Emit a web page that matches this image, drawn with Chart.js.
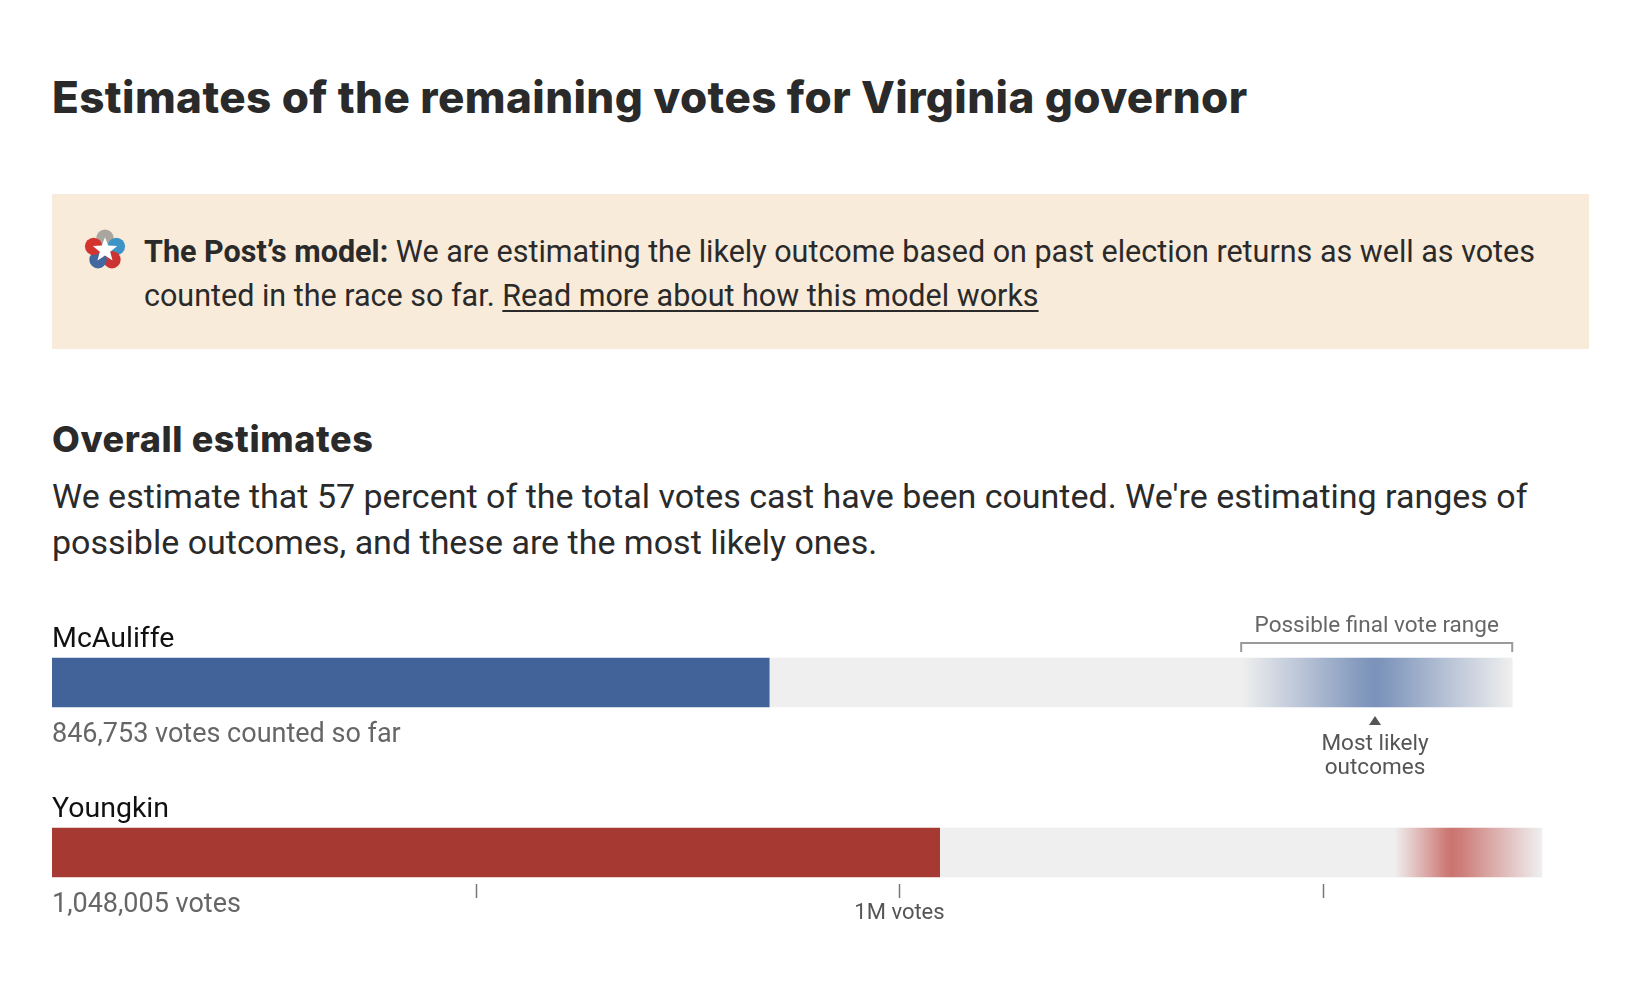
<!DOCTYPE html>
<html>
<head>
<meta charset="utf-8">
<script src="https://cdn.jsdelivr.net/npm/chart.js@4.4.0/dist/chart.umd.min.js"></script>
<style>
  body { margin: 0; background: #fff; width: 1634px; height: 1002px; position: relative; overflow: hidden;
         font-family: Roboto, "Noto Sans", sans-serif; color: #2a2a2a; }
  .abs { position: absolute; white-space: nowrap; }
  #title { left: 52px; top: 75px; font: 800 44px/1 Inter, Roboto, sans-serif; letter-spacing: 0.4px; color: #2a2a2a; }
  #note { left: 52px; top: 194px; width: 1537px; height: 155px; background: #f9ebd9; }
  #noteIcon { left: 83px; top: 228px; width: 44px; height: 44px; }
  #noteText { left: 144px; top: 230px; font-size: 30.5px; line-height: 44px; }
  #noteText b { font-weight: 700; }
  #noteText u { text-underline-offset: 4px; text-decoration-thickness: 2px; }
  #sub { left: 52px; top: 421px; font: 800 36px/1 Inter, Roboto, sans-serif; letter-spacing: 0.6px; }
  #desc { left: 52px; top: 473px; font-size: 34px; line-height: 46px; }
  #wrap { position: absolute; left: 0; top: 580px; width: 1634px; height: 422px; }
</style>
</head>
<body>
<div id="title" class="abs">Estimates of the remaining votes for Virginia governor</div>
<div id="note" class="abs"></div>
<svg id="noteIcon" class="abs" viewBox="0 0 48 48">
  <circle cx="24" cy="11" r="9.5" fill="#a9a59f"/>
  <circle cx="36.4" cy="20" r="9.5" fill="#3d92c6"/>
  <circle cx="31.6" cy="34.6" r="9.5" fill="#cc3434"/>
  <circle cx="16.4" cy="34.6" r="9.5" fill="#43679f"/>
  <circle cx="11.6" cy="20" r="9.5" fill="#d3342d"/>
  <polygon fill="#fff" points="24,10 27.5,19.2 37.3,19.7 29.7,25.9 32.2,35.4 24,30 15.8,35.4 18.3,25.9 10.7,19.7 20.5,19.2"/>
</svg>
<div id="noteText" class="abs"><b>The Post’s model:</b> We are estimating the likely outcome based on past election returns as well as votes<br>counted in the race so far. <u>Read more about how this model works</u></div>
<div id="sub" class="abs">Overall estimates</div>
<div id="desc" class="abs">We estimate that 57 percent of the total votes cast have been counted. We're estimating ranges of<br>possible outcomes, and these are the most likely ones.</div>
<div id="wrap"><canvas id="chart"></canvas></div>
<script>
// candidates and vote figures
const candidates = ['McAuliffe', 'Youngkin'];
const countedVotes = [846753, 1048005];
const countedSuffix = ['votes counted so far', 'votes'];
const rangeLow = [1404000, 1585000];
const rangeLikely = [1562000, 1652000];
const rangeHigh = [1724000, 1759000];
const barColors = ['#41639a', '#a63a32'];
const fadeRgb = [[62, 98, 158], [184, 52, 46]];

// x axis
const axisMax = 1800000;
const tickValues = [500000, 1000000, 1500000];
const tickLabels = ['', '1M votes', ''];

// annotation on first candidate
const rangeTitle = 'Possible final vote range';
const likelyLabel = ['Most likely', 'outcomes'];

function fadeFill(ctx) {
  const chart = ctx.chart;
  const x = chart.scales.x;
  if (ctx.type !== 'data' || !chart.chartArea || !x) return 'rgba(0,0,0,0)';
  const i = ctx.dataIndex;
  const lo = x.getPixelForValue(rangeLow[i]);
  const hi = x.getPixelForValue(rangeHigh[i]);
  const mid = x.getPixelForValue(rangeLikely[i]);
  if (!isFinite(lo) || !isFinite(hi) || !isFinite(mid)) return 'rgba(0,0,0,0)';
  const pk = (mid - lo) / (hi - lo);
  const c = fadeRgb[i].join(',');
  const g = chart.ctx.createLinearGradient(lo, 0, hi, 0);
  g.addColorStop(0, 'rgba(' + c + ',0)');
  g.addColorStop(pk * 0.3, 'rgba(' + c + ',0.2)');
  g.addColorStop(pk * 0.65, 'rgba(' + c + ',0.44)');
  g.addColorStop(pk * 0.88, 'rgba(' + c + ',0.6)');
  g.addColorStop(pk, 'rgba(' + c + ',0.66)');
  g.addColorStop(pk + (1 - pk) * 0.12, 'rgba(' + c + ',0.6)');
  g.addColorStop(pk + (1 - pk) * 0.35, 'rgba(' + c + ',0.44)');
  g.addColorStop(pk + (1 - pk) * 0.7, 'rgba(' + c + ',0.2)');
  g.addColorStop(1, 'rgba(' + c + ',0)');
  return g;
}

const labelsPlugin = {
  id: 'labels',
  afterDatasetsDraw(chart) {
    const ctx = chart.ctx;
    const x = chart.scales.x;
    const bars = chart.getDatasetMeta(0).data;
    ctx.save();
    ctx.textBaseline = 'alphabetic';
    bars.forEach((bar, i) => {
      const top = bar.y - bar.height / 2;
      const bottom = bar.y + bar.height / 2;
      ctx.textAlign = 'left';
      ctx.fillStyle = '#111';
      ctx.font = '28.5px Roboto, sans-serif';
      ctx.fillText(candidates[i], x.left, top - 11);
      ctx.fillStyle = '#666';
      ctx.font = '27px Roboto, sans-serif';
      ctx.fillText(countedVotes[i].toLocaleString('en-US') + ' ' + countedSuffix[i], x.left, bottom + 35);
    });

    // range bracket and likely marker on the first bar
    const b0 = bars[0];
    const t0 = b0.y - b0.height / 2;
    const btm0 = b0.y + b0.height / 2;
    const lo = x.getPixelForValue(rangeLow[0]);
    const hi = x.getPixelForValue(rangeHigh[0]);
    const pk = x.getPixelForValue(rangeLikely[0]);
    ctx.strokeStyle = '#9a9a9a';
    ctx.lineWidth = 2;
    ctx.beginPath();
    ctx.moveTo(lo, t0 - 6);
    ctx.lineTo(lo, t0 - 15);
    ctx.lineTo(hi, t0 - 15);
    ctx.lineTo(hi, t0 - 6);
    ctx.stroke();
    ctx.fillStyle = '#666';
    ctx.font = '22.5px Roboto, sans-serif';
    ctx.textAlign = 'center';
    ctx.fillText(rangeTitle, (lo + hi) / 2, t0 - 26);
    ctx.fillStyle = '#555';
    ctx.beginPath();
    ctx.moveTo(pk, btm0 + 9);
    ctx.lineTo(pk + 6, btm0 + 18);
    ctx.lineTo(pk - 6, btm0 + 18);
    ctx.closePath();
    ctx.fill();
    ctx.fillText(likelyLabel[0], pk, btm0 + 43);
    ctx.fillText(likelyLabel[1], pk, btm0 + 67);

    // axis ticks under the last bar
    const last = bars[bars.length - 1];
    const base = last.y + last.height / 2;
    ctx.strokeStyle = '#777';
    ctx.lineWidth = 1.5;
    tickValues.forEach((v, k) => {
      const px = Math.round(x.getPixelForValue(v)) + 0.5;
      ctx.beginPath();
      ctx.moveTo(px, base + 7);
      ctx.lineTo(px, base + 21);
      ctx.stroke();
      if (tickLabels[k]) {
        ctx.fillStyle = '#555';
        ctx.font = '22px Roboto, sans-serif';
        ctx.fillText(tickLabels[k], px, base + 42);
      }
    });
    ctx.restore();
  }
};

const chart = new Chart(document.getElementById('chart').getContext('2d'), {
  type: 'bar',
  data: {
    labels: candidates,
    datasets: [
      {
        label: 'Counted',
        data: countedVotes,
        backgroundColor: barColors,
        grouped: false,
        barThickness: 49
      },
      {
        label: 'Possible outcomes',
        data: candidates.map((c, i) => [rangeLow[i], rangeHigh[i]]),
        backgroundColor: fadeFill,
        grouped: false,
        barThickness: 49
      },
      {
        label: 'Remaining',
        data: candidates.map((c, i) => [countedVotes[i], rangeHigh[i]]),
        backgroundColor: '#efefef',
        grouped: false,
        barThickness: 49
      }
    ]
  },
  options: {
    indexAxis: 'y',
    responsive: true,
    maintainAspectRatio: false,
    animation: false,
    layout: { padding: { left: 52, right: 57.4, top: 17.5, bottom: 64.5 } },
    plugins: { legend: { display: false }, tooltip: { enabled: false } },
    scales: {
      x: { display: false, min: 0, max: axisMax },
      y: { display: false }
    }
  },
  plugins: [labelsPlugin]
});
chart.update();
</script>
</body>
</html>
